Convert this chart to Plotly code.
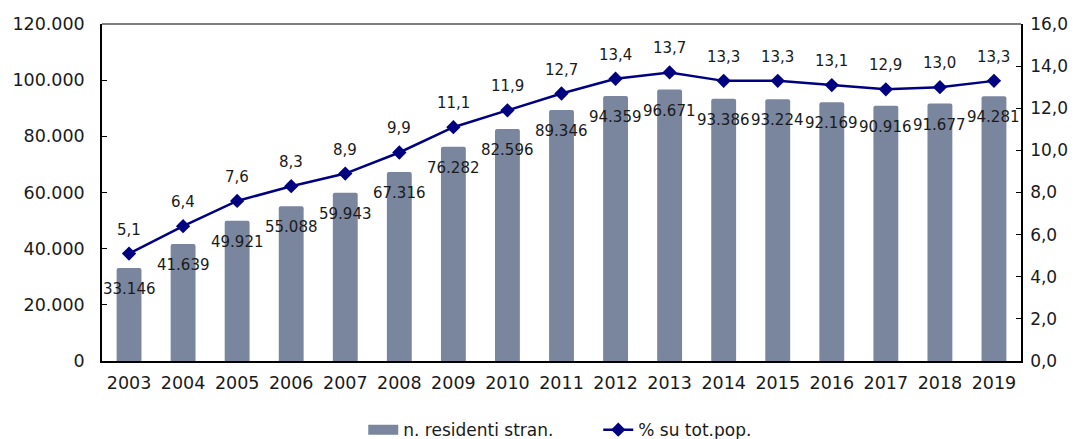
import plotly.graph_objects as go

years = [str(y) for y in range(2003, 2020)]
residenti = [33146, 41639, 49921, 55088, 59943, 67316, 76282, 82596, 89346,
             94359, 96671, 93386, 93224, 92169, 90916, 91677, 94281]
perc = [5.1, 6.4, 7.6, 8.3, 8.9, 9.9, 11.1, 11.9, 12.7, 13.4, 13.7, 13.3,
        13.3, 13.1, 12.9, 13.0, 13.3]

FONT = "DejaVu Sans"
TXT = "#1a1a1a"
BAR = "#79869E"
LINE = "#000080"

def fmt_int(v):
    return f"{v:,}".replace(",", ".")

def fmt_dec(v):
    return f"{v:.1f}".replace(".", ",")

fig = go.Figure()
fig.add_trace(go.Bar(
    x=years, y=residenti, name="n. residenti stran.",
    marker=dict(color=BAR, line=dict(width=0), cornerradius=2),
    width=0.46, showlegend=False,
))
# legend entry for the bars (wide rectangle swatch)
fig.add_trace(go.Scatter(
    x=[years[0]], y=[None], name="n. residenti stran.", mode="lines",
    line=dict(color=BAR, width=11), showlegend=True,
))
fig.add_trace(go.Scatter(
    x=years, y=perc, name="% su tot.pop.", yaxis="y2",
    mode="lines+markers",
    line=dict(color=LINE, width=2.5),
    marker=dict(symbol="diamond", size=11, color=LINE),
    cliponaxis=False,
))

annotations = []
for i, v in enumerate(residenti):
    annotations.append(dict(x=i, y=v, xref="x", yref="y", text=fmt_int(v),
                            showarrow=False, yshift=-21, yanchor="middle",
                            font=dict(size=15, color=TXT, family=FONT)))
for i, v in enumerate(perc):
    annotations.append(dict(x=i, y=v, xref="x", yref="y2", text=fmt_dec(v),
                            showarrow=False, yshift=24, yanchor="middle",
                            font=dict(size=15, color=TXT, family=FONT)))

fig.update_layout(
    width=1075, height=439,
    margin=dict(l=102, r=54, t=24, b=78, autoexpand=False),
    paper_bgcolor="white", plot_bgcolor="white",
    separators=",.",
    font=dict(family=FONT, size=16, color=TXT),
    showlegend=True,
    legend=dict(orientation="h", x=0.54, xanchor="center", y=-0.205,
                yanchor="middle", font=dict(size=17), tracegroupgap=0,
                entrywidth=190, entrywidthmode="pixels"),
    xaxis=dict(type="category", range=[-0.5, len(years) - 0.5],
               showline=True, linecolor="black", linewidth=1.5,
               ticks="", tickfont=dict(size=17.5), ticklabelstandoff=5),
    yaxis=dict(range=[0, 120000], dtick=20000, tickformat=",d",
               showgrid=False, showline=True, linecolor="black", linewidth=1.5,
               ticks="inside", ticklen=5, tickcolor="black", zeroline=False,
               tickfont=dict(size=17.5), ticklabelstandoff=12),
    yaxis2=dict(range=[0, 16], dtick=2, tickformat=".1f", overlaying="y",
                side="right", showgrid=False, showline=True, linecolor="black",
                linewidth=1.5, ticks="inside", ticklen=5, tickcolor="black",
                zeroline=False, tickfont=dict(size=17), ticklabelstandoff=4),
    shapes=[dict(type="line", xref="paper", yref="paper", x0=0, x1=1, y0=1, y1=1,
                 line=dict(color="#7f7f7f", width=2))],
    annotations=annotations,
)

fig.write_html("out.html", config={"displayModeBar": False},
               post_script="document.body.style.margin='0';")
